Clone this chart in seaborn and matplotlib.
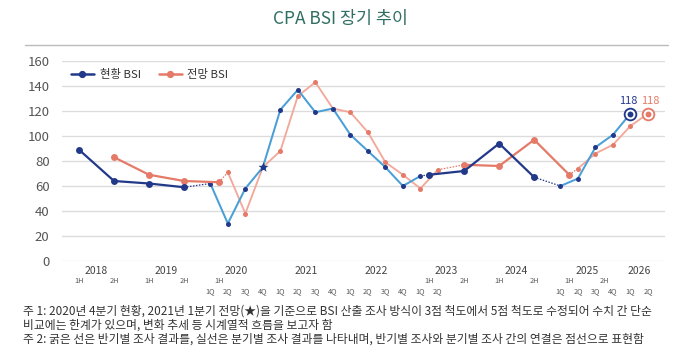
import matplotlib
matplotlib.use("Agg")
import matplotlib.pyplot as plt
import seaborn as sns
import pandas as pd
from matplotlib.lines import Line2D

# ---------------- data ----------------
cur_half1_periods = ["2018 1H", "2018 2H", "2019 1H", "2019 2H"]
cur_half1 = [89, 64, 62, 59]
cur_q1_periods = ["2020 1Q", "2020 2Q", "2020 3Q", "2020 4Q", "2021 1Q", "2021 2Q", "2021 3Q",
                  "2021 4Q", "2022 1Q", "2022 2Q", "2022 3Q", "2022 4Q", "2023 1Q"]
cur_q1 = [62, 30, 58, 75, 121, 137, 119, 122, 101, 88, 75, 60, 68]
cur_half2_periods = ["2023 1H", "2023 2H", "2024 1H", "2024 2H"]
cur_half2 = [69, 72, 94, 67]
cur_q2_periods = ["2025 1Q", "2025 2Q", "2025 3Q", "2025 4Q", "2026 1Q"]
cur_q2 = [60, 66, 91, 101, 118]

fc_half1_periods = ["2018 2H", "2019 1H", "2019 2H", "2020 1H"]
fc_half1 = [83, 69, 64, 63]
fc_q1_periods = ["2020 2Q", "2020 3Q", "2020 4Q", "2021 1Q", "2021 2Q", "2021 3Q", "2021 4Q",
                 "2022 1Q", "2022 2Q", "2022 3Q", "2022 4Q", "2023 1Q", "2023 2Q"]
fc_q1 = [71, 38, 75, 88, 132, 143, 122, 119, 103, 79, 69, 58, 73]
fc_half2_periods = ["2023 2H", "2024 1H", "2024 2H", "2025 1H"]
fc_half2 = [77, 76, 97, 69]
fc_q2_periods = ["2025 2Q", "2025 3Q", "2025 4Q", "2026 1Q", "2026 2Q"]
fc_q2 = [74, 86, 93, 108, 118]

star_period = "2020 4Q"

year_labels = ["2018", "2019", "2020", "2021", "2022", "2023", "2024", "2025", "2026"]
half_labels = ["2018 1H", "2018 2H", "2019 1H", "2019 2H", "2020 1H", "2023 1H", "2023 2H",
               "2024 1H", "2024 2H", "2025 1H", "2025 2H"]
quarter_labels = ["2020 1Q", "2020 2Q", "2020 3Q", "2020 4Q", "2021 1Q", "2021 2Q", "2021 3Q",
                  "2021 4Q", "2022 1Q", "2022 2Q", "2022 3Q", "2022 4Q", "2023 1Q", "2023 2Q",
                  "2025 1Q", "2025 2Q", "2025 3Q", "2025 4Q", "2026 1Q", "2026 2Q"]
y_ticks = [0, 20, 40, 60, 80, 100, 120, 140, 160]

title = "CPA BSI 장기 추이"
legend_labels = ["현황 BSI", "전망 BSI"]
notes = [
    "주 1: 2020년 4분기 현황, 2021년 1분기 전망(★)을 기준으로 BSI 산출 조사 방식이 3점 척도에서 5점 척도로 수정되어 수치 간 단순",
    "비교에는 한계가 있으며, 변화 추세 등 시계열적 흐름을 보고자 함",
    "주 2: 굵은 선은 반기별 조사 결과를, 실선은 분기별 조사 결과를 나타내며, 반기별 조사와 분기별 조사 간의 연결은 점선으로 표현함",
]

# ---------------- style ----------------
NAVY = "#22398a"
LBLUE = "#4a9fd6"
SALMON = "#e57a68"
LSALMON = "#f2a99b"
GRID = "#dcdcdc"

sns.set_theme(style="white")
plt.rcParams["font.family"] = ["Noto Sans CJK KR", "DejaVu Sans"]
plt.rcParams["axes.unicode_minus"] = False


def t(p):
    y, k = p.split()
    y = int(y)
    if k.endswith("H"):
        return y + (int(k[0]) - 1) * 0.5 + 0.25
    return y + (int(k[0]) - 1) * 0.25 + 0.125


def frame(periods, values):
    return pd.DataFrame({"x": [t(p) for p in periods], "y": values})


def line(df, color, lw, ms=0, mfc=None, ls="-", z=2):
    kw = dict(data=df, x="x", y="y", ax=ax, color=color, linewidth=lw, linestyle=ls,
              estimator=None, sort=False, legend=False, zorder=z)
    if ms:
        kw.update(marker="o", markersize=ms, markerfacecolor=mfc or color,
                  markeredgecolor=mfc or color, markeredgewidth=0)
    sns.lineplot(**kw)
    for ln in ax.lines[-1:]:
        ln.set_clip_on(False)


fig = plt.figure(figsize=(6.8, 3.51), dpi=100)
ax = fig.add_axes([62 / 680, 90 / 351, 603 / 680, 200 / 351])

# quarterly (thin) lines
line(frame(fc_q1_periods, fc_q1), LSALMON, 1.35, ms=3.6, mfc=SALMON, z=2)
line(frame(fc_q2_periods, fc_q2), LSALMON, 1.35, ms=3.6, mfc=SALMON, z=2)
line(frame(cur_q1_periods, cur_q1), LBLUE, 1.45, ms=3.6, mfc=NAVY, z=3)
line(frame(cur_q2_periods, cur_q2), LBLUE, 1.45, ms=3.6, mfc=NAVY, z=3)

# connectors (dotted)
conn = [
    ([cur_half1_periods[-1], cur_q1_periods[0]], [cur_half1[-1], cur_q1[0]], NAVY),
    ([cur_q1_periods[-1], cur_half2_periods[0]], [cur_q1[-1], cur_half2[0]], NAVY),
    ([cur_half2_periods[-1], cur_q2_periods[0]], [cur_half2[-1], cur_q2[0]], NAVY),
    ([fc_half1_periods[-1], fc_q1_periods[0]], [fc_half1[-1], fc_q1[0]], SALMON),
    ([fc_q1_periods[-1], fc_half2_periods[0]], [fc_q1[-1], fc_half2[0]], SALMON),
    ([fc_half2_periods[-1], fc_q2_periods[0]], [fc_half2[-1], fc_q2[0]], SALMON),
]
for per, val, c in conn:
    line(frame(per, val), c, 0.9, ls=(0, (1.2, 1.2)), z=2)

# half-year (thick) lines
line(frame(fc_half1_periods, fc_half1), SALMON, 1.6, ms=5.0, z=4)
line(frame(fc_half2_periods, fc_half2), SALMON, 1.6, ms=5.0, z=4)
line(frame(cur_half1_periods, cur_half1), NAVY, 1.6, ms=5.0, z=5)
line(frame(cur_half2_periods, cur_half2), NAVY, 1.6, ms=5.0, z=5)

# star marker
sv = cur_q1[cur_q1_periods.index(star_period)]
sns.scatterplot(x=[t(star_period)], y=[sv], ax=ax, marker="*", s=60, color=NAVY,
                edgecolor=NAVY, linewidth=0, zorder=6, legend=False)

# ring markers at the end + value labels
for per, val, c, dx in [(cur_q2_periods[-1], cur_q2[-1], NAVY, -1.5),
                        (fc_q2_periods[-1], fc_q2[-1], SALMON, 1.5)]:
    x = t(per)
    sns.scatterplot(x=[x], y=[val], ax=ax, s=95, color=c, linewidth=0, zorder=7, legend=False)
    sns.scatterplot(x=[x], y=[val], ax=ax, s=50, color="white", linewidth=0, zorder=8, legend=False)
    sns.scatterplot(x=[x], y=[val], ax=ax, s=18, color=c, linewidth=0, zorder=9, legend=False)
    ax.annotate(str(val), (x, val), xytext=(dx, 9), textcoords="offset points",
                ha="center", va="center", fontsize=8, color=c, zorder=9)
for col in ax.collections:
    col.set_clip_on(False)

# axes styling
ax.set_xlim(2018.007, 2026.618)
ax.set_ylim(0, 160)
ax.set_yticks(y_ticks)
ax.set_yticklabels([str(v) for v in y_ticks])
ax.set_xticks([])
ax.set_xlabel("")
ax.set_ylabel("")
ax.yaxis.grid(True, color=GRID, linewidth=1.0)
ax.set_axisbelow(True)
for s in ax.spines.values():
    s.set_visible(False)
ax.tick_params(axis="y", length=0, pad=9, labelsize=9.5, labelcolor="#555555")

# custom x labels (three rows)
tr = ax.get_xaxis_transform()
all_periods = (cur_half1_periods + cur_q1_periods + cur_half2_periods + cur_q2_periods +
               fc_half1_periods + fc_q1_periods + fc_half2_periods + fc_q2_periods)
for yl in year_labels:
    xs = [t(p) for p in all_periods if p.startswith(yl)]
    if yl == "2026":
        xpos = (min(xs) + max(xs)) / 2
    else:
        xpos = int(yl) + 0.5
    ax.text(xpos, -0.05, yl, transform=tr, ha="center", va="center", fontsize=7.5, color="#444444")
for p in half_labels:
    ax.text(t(p), -0.098, p.split()[1], transform=tr, ha="center", va="center",
            fontsize=5.3, color="#555555")
for p in quarter_labels:
    ax.text(t(p), -0.152, p.split()[1], transform=tr, ha="center", va="center",
            fontsize=5.3, color="#555555")

# legend
handles = [Line2D([0], [0], color=NAVY, lw=1.8, marker="o", ms=4.2),
           Line2D([0], [0], color=SALMON, lw=1.8, marker="o", ms=4.2)]
ax.legend(handles, legend_labels, loc="center left", bbox_to_anchor=(-0.002, 0.935),
          ncol=2, frameon=False, fontsize=8.2, handlelength=2.0, handletextpad=0.5,
          columnspacing=1.6, labelcolor="#333333")

# title and separator
fig.text(0.5, 1 - 19 / 351, title, ha="center", va="center", fontsize=12.5, color="#2f6e62")
fig.add_artist(Line2D([25 / 680, 668 / 680], [1 - 45 / 351] * 2, color="#bcbcbc", lw=1.0))

# notes
for i, n in enumerate(notes):
    fig.text(23 / 680, 1 - (311 + 14 * i) / 351, n, ha="left", va="center", fontsize=8.5,
             color="#333333")

fig.savefig("out.png", dpi=100)
